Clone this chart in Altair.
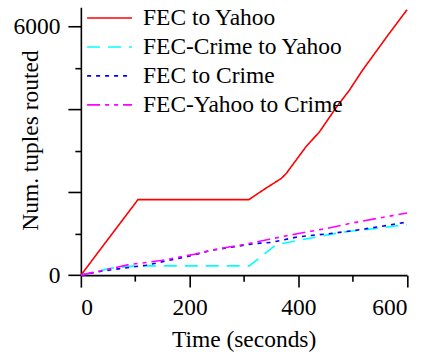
import altair as alt
import pandas as pd

# Tuples routed over time for each routing path
series_names = ["FEC to Yahoo", "FEC-Crime to Yahoo", "FEC to Crime", "FEC-Yahoo to Crime"]
series_colors = ["#ff0000", "#00ffff", "#0000ff", "#ff00ff"]
series_dashes = [[1, 0], [13, 8], [4, 5], [13, 5, 4, 5, 4, 5]]

fec_yahoo_t = [0, 10, 30, 60, 105, 309, 335, 369, 378, 414, 439, 470, 494, 518, 567, 600]
fec_yahoo_v = [0, 170, 520, 1040, 1820, 1820, 2050, 2335, 2455, 3095, 3456, 4050, 4460, 4940, 5824, 6400]

fec_crime_yahoo_t = [0, 55, 100, 310, 360, 390, 411, 484, 540, 600]
fec_crime_yahoo_v = [0, 168, 224, 224, 740, 810, 866, 1042, 1120, 1220]

fec_crime_t = [0, 40, 80, 120, 200, 240, 320, 350, 400, 450, 500, 550, 600]
fec_crime_v = [0, 100, 170, 240, 460, 600, 760, 790, 925, 990, 1070, 1170, 1280]

fec_yahoo_crime_t = [0, 86, 147, 209, 243, 300, 347, 398, 450, 500, 550, 600]
fec_yahoo_crime_v = [0, 248, 351, 505, 609, 740, 866, 1000, 1120, 1260, 1380, 1500]

rows = []
for name, ts, vs in [
    (series_names[0], fec_yahoo_t, fec_yahoo_v),
    (series_names[1], fec_crime_yahoo_t, fec_crime_yahoo_v),
    (series_names[2], fec_crime_t, fec_crime_v),
    (series_names[3], fec_yahoo_crime_t, fec_yahoo_crime_v),
]:
    for i, (t, v) in enumerate(zip(ts, vs)):
        rows.append({"series": name, "time": t, "tuples": v, "order": i})
df = pd.DataFrame(rows)

FONT = "Liberation Serif"
FS = 23.5

x_axis = alt.Axis(
    values=[0, 100, 200, 300, 400, 500, 600],
    labelExpr="datum.value % 200 == 0 ? datum.label : ''",
    tickSize={"condition": {"test": "datum.value % 200 == 0", "value": 12}, "value": 6},
    grid=False,
    title="Time (seconds)",
    titleX=163,
    titleY=71,
    titleBaseline="alphabetic",
    labelPadding=8,
)
y_axis = alt.Axis(
    values=[0, 1000, 2000, 3000, 4000, 5000, 6000],
    labelExpr="datum.value == 0 || datum.value == 6000 ? datum.label : ''",
    tickSize={"condition": {"test": "datum.value % 2000 == 0", "value": 13}, "value": 6},
    grid=False,
    title="Num. tuples routed",
    titleX=-43,
    titleY=133,
    titleBaseline="alphabetic",
    titleAngle=270,
    labelPadding=8,
    format="d",
)

# Wide horizontal stroke as the legend symbol, kept short in height so rows sit close
legend = alt.Legend(
    title=None,
    orient="none",
    legendX=11.25,
    legendY=-6.75,
    symbolType="M-1.385,0H1.385",
    symbolSize=1056,
    symbolStrokeWidth=1.6,
    labelFont=FONT,
    labelFontSize=FS,
    labelColor="black",
    labelOffset=16,
    rowPadding=0,
    labelLimit=400,
)

chart = (
    alt.Chart(df)
    .mark_line(strokeWidth=1.6)
    .encode(
        x=alt.X("time:Q", scale=alt.Scale(domain=[0, 600], nice=False, zero=False), axis=x_axis),
        y=alt.Y("tuples:Q", scale=alt.Scale(domain=[0, 6460], nice=False), axis=y_axis),
        color=alt.Color(
            "series:N",
            sort=series_names,
            scale=alt.Scale(domain=series_names, range=series_colors),
            legend=legend,
        ),
        strokeDash=alt.StrokeDash(
            "series:N",
            sort=series_names,
            scale=alt.Scale(domain=series_names, range=series_dashes),
            legend=legend,
        ),
        order="order:Q",
    )
    .properties(
        width=326.7,
        height=268.3,
        background="white",
        autosize=alt.AutoSizeParams(type="none"),
        padding={"left": 81, "top": 7, "right": 15, "bottom": 79},
    )
    .configure(font=FONT, style={"guide-label": {"font": FONT}})
    .configure_view(stroke=None)
    .configure_axis(
        domainColor="black",
        domainWidth=1.6,
        tickColor="black",
        tickWidth=1.6,
        labelFont=FONT,
        labelFontSize=FS,
        labelColor="black",
        titleFont=FONT,
        titleFontSize=FS,
        titleFontWeight="normal",
        titleColor="black",
    )
    .configure_legend(labelFont=FONT, labelFontSize=FS)
)

chart.save("out.html", embed_options={"renderer": "svg", "actions": False})
